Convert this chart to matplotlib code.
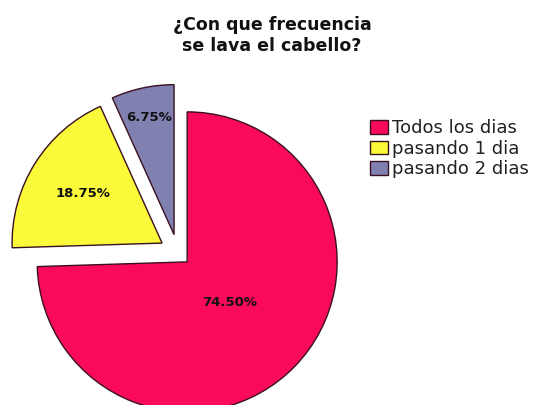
import matplotlib
matplotlib.use("Agg")
import matplotlib.pyplot as plt
import numpy as np

categories = ["Todos los dias", "pasando 1 dia", "pasando 2 dias"]
values = [74.50, 18.75, 6.75]
labels = ["74.50%", "18.75%", "6.75%"]
colors = ["#FA0A5C", "#FAFA3A", "#8081B1"]
explode = [0.085, 0.125, 0.125]
label_dist = [0.39, 0.62, 0.80]

W, H = 533, 405
fig = plt.figure(figsize=(W / 100, H / 100), dpi=100)
ax = fig.add_axes([0, 0, 1, 1])

wedges, _ = ax.pie(values, colors=colors, explode=explode, startangle=90,
                   counterclock=False, radius=1.0,
                   wedgeprops=dict(edgecolor="#3a1020", linewidth=1.0))

# one data unit = 150 px; pie centre placed at pixel (178, 253)
cx, cy, scale = 178, 253, 150.0
ax.set_xlim(-cx / scale, (W - cx) / scale)
ax.set_ylim(-(H - cy) / scale, cy / scale)
ax.set_aspect("equal", adjustable="box")
ax.axis("off")

for w, lab, d, ex in zip(wedges, labels, label_dist, explode):
    mid = np.deg2rad((w.theta1 + w.theta2) / 2)
    ox, oy = w.center
    ax.text(ox + d * np.cos(mid), oy + d * np.sin(mid), lab,
            ha="center", va="center", fontsize=9.5, fontweight="bold",
            color="#111111")

fig.text(272 / W, 1 - 35.5 / H, "¿Con que frecuencia\nse lava el cabello?",
         ha="center", va="center", fontsize=12.5, fontweight="bold",
         linespacing=1.17, color="#111111")

leg = ax.legend(wedges, categories, loc="upper left",
                bbox_to_anchor=(370 / W, 1 - 119 / H),
                bbox_transform=fig.transFigure, frameon=False,
                fontsize=13, handlelength=1.0, handleheight=0.8,
                handletextpad=0.2, labelspacing=0.15, borderpad=0,
                borderaxespad=0)
for t in leg.get_texts():
    t.set_color("#222222")

fig.savefig("out.png", dpi=100)
